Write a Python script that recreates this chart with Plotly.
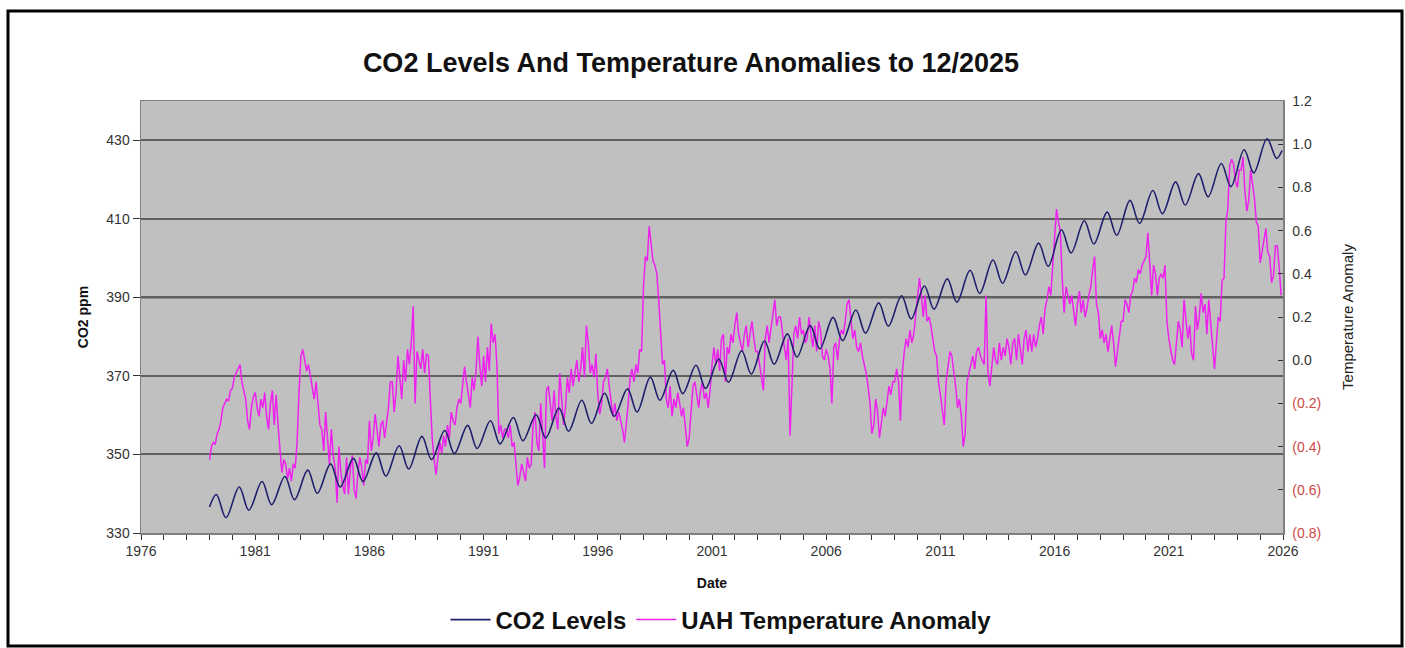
import plotly.graph_objects as go

# ---------------- data ----------------
# CO2 (ppm): seasonal maximum (spring) and minimum (autumn) of each year
co2_years = list(range(1979, 2026))
co2_peak = [339.8, 341.7, 343.1, 344.4, 346.0, 347.6, 349.0, 350.4, 352.2, 354.6,
            356.1, 357.4, 358.6, 359.4, 360.1, 361.8, 363.8, 365.6, 366.7, 369.7,
            371.4, 372.7, 374.3, 376.4, 378.9, 380.7, 382.8, 384.9, 386.8, 388.6,
            390.4, 392.9, 394.7, 396.9, 399.5, 401.6, 403.8, 407.2, 409.5, 411.7,
            414.7, 417.2, 419.4, 421.5, 424.1, 427.6, 430.4]
co2_trough = [333.9, 335.8, 337.2, 338.5, 340.1, 341.7, 343.1, 344.5, 346.3, 348.7,
              350.2, 351.5, 352.7, 353.5, 354.2, 355.9, 357.9, 359.7, 360.8, 363.8,
              365.5, 366.8, 368.4, 370.5, 373.0, 374.8, 376.9, 379.0, 380.9, 382.7,
              384.5, 387.0, 388.8, 391.0, 393.6, 395.7, 397.9, 401.3, 403.6, 405.8,
              408.8, 411.3, 413.5, 415.6, 418.2, 421.7, 425.4]
co2_first = 336.6   # Jan 1979
co2_last = 427.4    # Dec 2025

# UAH global temperature anomaly (deg C), monthly, Jan 1979 - Dec 2025
uah_1979_1988 = [
    -0.46, -0.40, -0.38, -0.39, -0.34, -0.32, -0.28, -0.22, -0.20, -0.18, -0.19, -0.14,
    -0.13, -0.08, -0.06, -0.04, -0.02, -0.10, -0.14, -0.18, -0.28, -0.32, -0.22, -0.17,
    -0.15, -0.22, -0.26, -0.18, -0.22, -0.15, -0.26, -0.32, -0.20, -0.14, -0.30, -0.16,
    -0.30, -0.42, -0.52, -0.46, -0.48, -0.55, -0.50, -0.56, -0.48, -0.50, -0.38, -0.15,
    0.02, 0.05, 0.00, -0.05, -0.02, -0.08, -0.12, -0.18, -0.10, -0.22, -0.30, -0.32,
    -0.42, -0.24, -0.36, -0.48, -0.32, -0.44, -0.50, -0.66, -0.40, -0.52, -0.58, -0.62,
    -0.45, -0.62, -0.50, -0.44, -0.60, -0.64, -0.52, -0.45, -0.50, -0.58, -0.46, -0.48,
    -0.28, -0.42, -0.36, -0.25, -0.32, -0.40, -0.30, -0.28, -0.36, -0.30, -0.22, -0.10,
    -0.10, -0.24, -0.15, 0.02, -0.08, -0.18, 0.00, -0.10, 0.05, -0.02, 0.08, 0.25,
    -0.20, 0.04, 0.00, -0.04, 0.05, -0.06, 0.03, 0.02, -0.18, -0.36, -0.46, -0.53,
]
uah_1989_1998 = [
    -0.45, -0.38, -0.43, -0.35, -0.40, -0.30, -0.36, -0.24, -0.28, -0.30, -0.22, -0.18,
    -0.20, -0.12, -0.03, -0.10, -0.16, -0.22, -0.08, -0.14, -0.05, 0.11, -0.02, -0.12,
    0.02, -0.10, 0.06, -0.05, 0.17, 0.08, 0.12, -0.02, -0.34, -0.30, -0.36, -0.32,
    -0.32, -0.36, -0.30, -0.40, -0.38, -0.50, -0.58, -0.54, -0.48, -0.52, -0.56, -0.45,
    -0.50, -0.48, -0.30, -0.24, -0.38, -0.42, -0.20, -0.34, -0.50, -0.14, -0.12, -0.20,
    -0.28, -0.14, -0.26, -0.32, -0.06, -0.18, -0.30, -0.22, -0.08, -0.15, -0.04, -0.12,
    -0.06, 0.00, -0.10, -0.04, 0.06, -0.08, 0.16, 0.08, -0.06, -0.02, -0.08, 0.03,
    -0.16, -0.25, -0.20, -0.10, -0.08, -0.04, -0.12, -0.18, -0.26, -0.20, -0.28, -0.24,
    -0.28, -0.32, -0.38, -0.30, -0.20, -0.08, -0.04, -0.10, -0.02, -0.06, 0.05, 0.04,
    0.34, 0.48, 0.46, 0.62, 0.53, 0.46, 0.44, 0.40, 0.28, 0.14, -0.02, 0.00,
]
uah_1999_2008 = [
    -0.18, -0.22, -0.12, -0.26, -0.18, -0.22, -0.15, -0.20, -0.26, -0.22, -0.30, -0.40,
    -0.36, -0.24, -0.12, -0.10, -0.16, -0.22, -0.14, -0.10, -0.18, -0.15, -0.22, -0.14,
    -0.02, 0.06, -0.02, 0.05, -0.05, 0.10, 0.12, -0.10, 0.06, 0.03, 0.12, 0.08,
    0.16, 0.22, 0.12, 0.08, 0.04, 0.12, 0.16, 0.06, 0.12, 0.18, 0.10, 0.04,
    0.04, -0.02, -0.10, -0.14, 0.10, 0.16, 0.08, 0.14, 0.22, 0.28, 0.16, 0.20,
    0.20, 0.12, 0.06, 0.00, 0.10, -0.35, -0.06, 0.12, 0.16, 0.10, 0.20, 0.12,
    0.14, 0.08, 0.10, 0.20, 0.12, 0.06, 0.16, 0.04, 0.18, 0.14, 0.02, 0.00,
    0.05, 0.02, -0.04, -0.20, 0.06, 0.08, 0.00, 0.10, 0.14, 0.12, 0.18, 0.26,
    0.28, 0.18, 0.10, 0.14, 0.06, 0.04, 0.08, 0.02, -0.02, -0.06, -0.12, -0.20,
    -0.34, -0.30, -0.18, -0.24, -0.36, -0.28, -0.22, -0.26, -0.18, -0.12, -0.16, -0.10,
]
uah_2009_2018 = [
    -0.10, -0.04, -0.10, -0.28, -0.06, 0.04, 0.10, 0.06, 0.14, 0.08, 0.12, 0.20,
    0.30, 0.38, 0.30, 0.20, 0.30, 0.18, 0.20, 0.16, 0.10, 0.04, 0.02, -0.10,
    -0.16, -0.22, -0.30, -0.10, -0.02, 0.04, 0.02, -0.04, -0.12, -0.22, -0.18, -0.26,
    -0.40, -0.34, -0.10, -0.06, -0.02, 0.02, -0.04, 0.04, 0.06, 0.02, 0.00, -0.02,
    0.30, -0.06, -0.12, -0.04, 0.06, 0.00, -0.02, 0.08, 0.00, 0.06, 0.02, 0.10,
    0.06, -0.02, 0.08, 0.10, 0.00, 0.12, 0.06, -0.02, 0.10, 0.14, 0.04, 0.12,
    0.04, 0.12, 0.06, 0.10, 0.16, 0.20, 0.12, 0.24, 0.28, 0.34, 0.30, 0.45,
    0.56, 0.70, 0.64, 0.60, 0.38, 0.22, 0.34, 0.30, 0.26, 0.30, 0.24, 0.16,
    0.26, 0.32, 0.22, 0.28, 0.20, 0.24, 0.30, 0.34, 0.42, 0.48, 0.26, 0.22,
    0.10, 0.14, 0.08, 0.12, 0.04, 0.10, 0.16, 0.08, -0.03, 0.04, 0.12, 0.18,
]
uah_2019_2025 = [
    0.18, 0.28, 0.26, 0.22, 0.30, 0.32, 0.38, 0.36, 0.42, 0.40, 0.44, 0.46,
    0.48, 0.59, 0.42, 0.30, 0.44, 0.40, 0.30, 0.38, 0.40, 0.38, 0.44, 0.18,
    0.10, 0.04, 0.00, -0.02, 0.08, 0.18, 0.14, 0.06, 0.28, 0.20, 0.10, 0.16,
    0.03, 0.00, 0.25, 0.14, 0.20, 0.31, 0.22, 0.26, 0.12, 0.28, 0.16, 0.04,
    -0.04, 0.08, 0.20, 0.18, 0.37, 0.38, 0.64, 0.70, 0.90, 0.93, 0.91, 0.83,
    0.80, 0.88, 0.88, 0.94, 0.78, 0.69, 0.74, 0.88, 0.81, 0.75, 0.64, 0.62,
    0.45, 0.50, 0.57, 0.61, 0.50, 0.48, 0.36, 0.39, 0.53, 0.53, 0.43, 0.30,
]
uah_first_year = 1979

x_ticks = list(range(1976, 2027, 5))
co2_ticks = [330, 350, 370, 390, 410, 430]
temp_ticks = [-0.8, -0.6, -0.4, -0.2, 0.0, 0.2, 0.4, 0.6, 0.8, 1.0, 1.2]
co2_reference_line = 390

# ---------------- build series ----------------
uah = uah_1979_1988 + uah_1989_1998 + uah_1999_2008 + uah_2009_2018 + uah_2019_2025
uah_x = [uah_first_year + i / 12.0 for i in range(len(uah))]

PEAK_POS, TROUGH_POS = 0.30, 0.72   # fraction of year of seasonal max / min
co2_x = [co2_years[0]]
co2_y = [co2_first]
for yr, p, t in zip(co2_years, co2_peak, co2_trough):
    co2_x += [yr + PEAK_POS, yr + TROUGH_POS]
    co2_y += [p, t]
co2_x.append(co2_years[-1] + 11.5 / 12)
co2_y.append(co2_last)

def fmt(v):
    if v < 0:
        return '<span style="color:#d04848">(%.1f)</span>' % abs(v)
    return '%.1f' % v

temp_text = [fmt(v) for v in temp_ticks]

FONT = "Arial, 'Liberation Sans', sans-serif"
W, H = 1405, 648
L, R, T, B = 141, 1283, 101, 533

fig = go.Figure()
fig.add_trace(go.Scatter(
    x=co2_x, y=co2_y, name="CO2 Levels", mode="lines", yaxis="y2",
    line=dict(color="#1f1f6e", width=1.6, shape="spline", smoothing=1.0),
    hoverinfo="skip"))
fig.add_trace(go.Scatter(
    x=uah_x, y=uah, name="UAH Temperature Anomaly", mode="lines", yaxis="y",
    line=dict(color="#ee22ee", width=1.5),
    hoverinfo="skip"))

fig.add_shape(type="line", xref="paper", x0=0, x1=1, yref="y2",
              y0=co2_reference_line, y1=co2_reference_line,
              line=dict(color="#000000", width=1.6), layer="between")

# outer frame
fig.add_shape(type="rect", xref="paper", yref="paper",
              x0=(8 - L) / (R - L), x1=(1402 - L) / (R - L),
              y0=(B - 646) / (B - T), y1=(B - 11) / (B - T),
              line=dict(color="#000000", width=3), fillcolor="rgba(0,0,0,0)",
              layer="above")

fig.update_layout(
    width=W, height=H,
    margin=dict(l=L, r=W - R, t=T, b=H - B, pad=0, autoexpand=False),
    paper_bgcolor="#ffffff", plot_bgcolor="#c0c0c0",
    font=dict(family=FONT, size=14, color="#333333"),
    title=dict(text="CO2 Levels And Temperature Anomalies to 12/2025",
               x=691 / W, xanchor="center", y=1 - 63 / H, yanchor="middle",
               font=dict(family=FONT, size=27, color="#111111", weight="bold")),
    showlegend=True,
    legend=dict(orientation="h", x=721 / W, xref="container", xanchor="center",
                y=1 - 620 / H, yref="container", yanchor="middle",
                font=dict(family=FONT, size=24, color="#111111", weight="bold"),
                bgcolor="rgba(0,0,0,0)", itemwidth=40),
    xaxis=dict(range=[1976, 2026], tickvals=x_ticks, ticktext=[str(v) for v in x_ticks],
               showgrid=False, zeroline=False, showline=True, linecolor="#808080",
               linewidth=1.5, mirror=True, ticks="outside", ticklen=5, tickcolor="#333333",
               minor=dict(dtick=1, ticks="outside", ticklen=5, tickcolor="#333333", showgrid=False),
               tickfont=dict(size=14, color="#333333"),
               title=dict(text="Date", standoff=20,
                          font=dict(size=14, color="#111111", weight="bold"))),
    yaxis=dict(range=[-0.8, 1.2], side="right", tickvals=temp_ticks, ticktext=temp_text,
               showgrid=False, zeroline=False, showline=True, linecolor="#808080",
               linewidth=1.5, ticks="inside", ticklen=5, tickcolor="#333333",
               ticklabelstandoff=5,
               tickfont=dict(size=14, color="#333333"),
               title=dict(text="Temperature Anomaly", standoff=22,
                          font=dict(size=15, color="#222222"))),
    yaxis2=dict(range=[330, 440], side="left", overlaying="y", tickvals=co2_ticks,
                showgrid=True, gridcolor="#606060", gridwidth=2, zeroline=False,
                showline=True, linecolor="#808080", linewidth=1.5,
                ticks="outside", ticklen=7, tickcolor="#333333",
                tickfont=dict(size=14, color="#333333"),
                title=dict(text="CO2 ppm", standoff=14,
                           font=dict(size=14, color="#111111", weight="bold"))),
)

fig.write_html("out.html",
               config={"displayModeBar": False, "staticPlot": True},
               post_script="document.body.style.margin='0';"
                           "document.body.style.overflow='hidden';")
